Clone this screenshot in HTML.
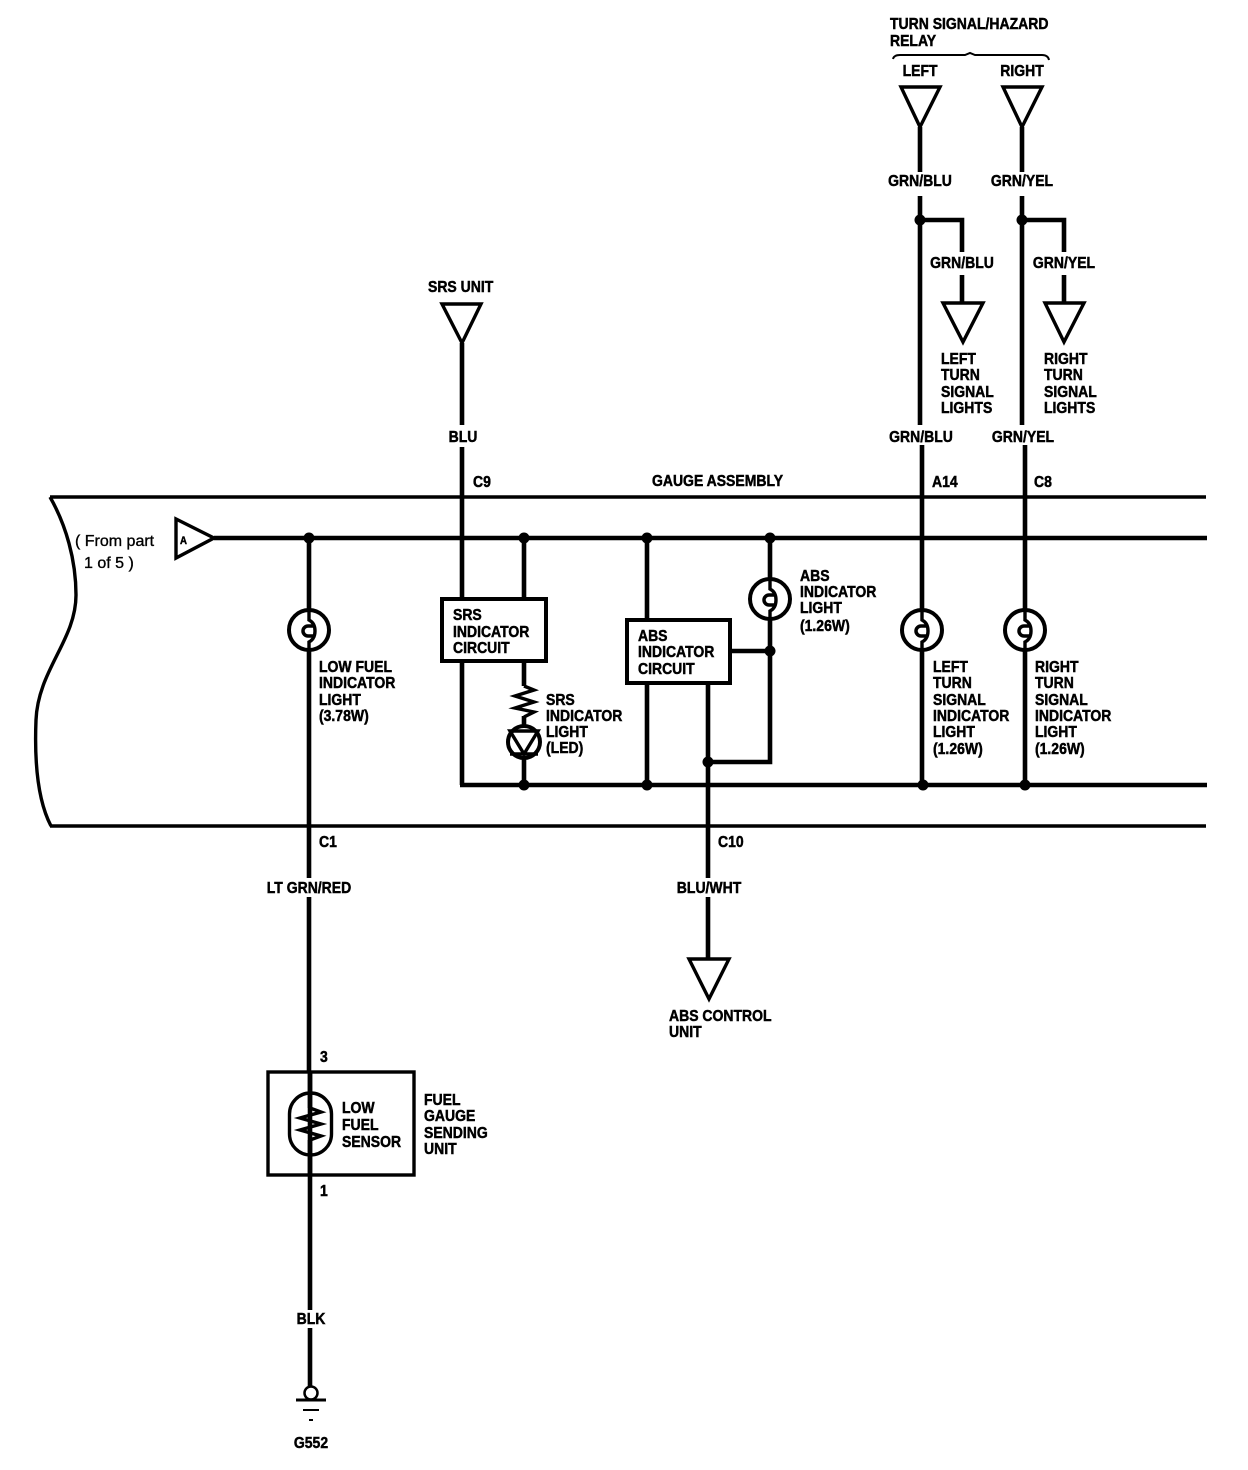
<!DOCTYPE html>
<html><head><meta charset="utf-8"><style>
html,body{margin:0;padding:0;background:#fff}
svg{display:block}
text{font-family:"Liberation Sans",sans-serif;font-weight:bold;font-size:16px;fill:#000;stroke:#000;stroke-width:.5px;transform-box:fill-box;transform-origin:0 50%;transform:scaleX(.875)}
text.m{text-anchor:middle;transform-origin:50% 50%}
text.r{font-weight:normal;font-size:16px;stroke-width:.35px;transform:none}
.w{fill:none;stroke:#000;stroke-width:4.6}
.t{fill:none;stroke:#000;stroke-width:3.4}
.o{fill:#fff;stroke:#000;stroke-width:4}
</style></head><body>
<svg width="1248" height="1470" viewBox="0 0 1248 1470" xmlns="http://www.w3.org/2000/svg">
<!-- housing -->
<path class="t" d="M50,497 H1206 M50,826 H1206"/>
<path class="t" d="M50,497 C66,525 76,560 76,595 C76,640 38,670 36,720 C34,770 40,805 51,826"/>
<!-- buses -->
<path class="w" d="M214,538 H1207 M460,785 H1207"/>
<!-- A connector -->
<path class="t" d="M176,519 V558 L214,538 Z" style="fill:#fff"/>
<text x="180" y="544" style="font-size:11px">A</text>
<text class="r" x="75" y="546">( From part</text>
<text class="r" x="84" y="568">1 of 5 )</text>
<!-- wires -->
<path class="w" d="M309,538 V878 M309,897 V1072 M310,1072 V1310 M310,1328 V1387"/>
<path class="w" d="M462,343 V425 M462,447 V785"/>
<path class="w" d="M524,538 V686 M524,716 V785"/>
<path class="w" d="M647,538 V785"/>
<path class="w" d="M770,538 V762 H708 M730,651 H770 M708,683 V878 M708,897 V959"/>
<path class="w" d="M920,127 V172 M920,196 V425 M922,445 V785"/>
<path class="w" d="M1022,127 V172 M1022,196 V425 M1025,445 V785"/>
<path class="w" d="M920,220 H962 V252 M962,275 V303"/>
<path class="w" d="M1022,220 H1064 V252 M1064,275 V303"/>
<!-- junctions -->
<g fill="#000">
<circle cx="309" cy="538" r="5.500"/><circle cx="524" cy="538" r="5.500"/><circle cx="647" cy="538" r="5.500"/><circle cx="770" cy="538" r="5.500"/>
<circle cx="524" cy="785" r="5.500"/><circle cx="647" cy="785" r="5.500"/><circle cx="923" cy="785" r="5.500"/><circle cx="1025" cy="785" r="5.500"/>
<circle cx="770" cy="651" r="5.500"/><circle cx="708" cy="762" r="5.500"/>
<circle cx="920" cy="220" r="5.500"/><circle cx="1022" cy="220" r="5.500"/>
</g>
<!-- triangles -->
<g>
<path style="fill:#fff" class="t" d="M901,87 H940 L920,127 Z"/>
<path style="fill:#fff" class="t" d="M1003,87 H1042 L1022,127 Z"/>
<path style="fill:#fff" class="t" d="M943,303 H983 L963,342 Z"/>
<path style="fill:#fff" class="t" d="M1045,303 H1084 L1064,342 Z"/>
<path style="fill:#fff" class="t" d="M442,304 H481 L462,343 Z"/>
<path style="fill:#fff" class="t" d="M689,959 H729 L709,999 Z"/>
</g>
<path d="M893,59 Q894,55 900,55 H965 L970,53 L975,55 H1042 Q1048,55 1049,60" fill="none" stroke="#000" stroke-width="2"/>
<!-- bulbs -->
<g>
<circle class="o" cx="309" cy="630" r="20"/>
<path class="t" d="M309,610 V620 Q315,623 315,631 Q315,639 309,642 V650"/>
<path fill="none" stroke="#000" stroke-width="3.500" d="M315,626 H308 a5,5 0 0 0 0,10 H315"/>
<circle class="o" cx="770" cy="599" r="20"/>
<path class="t" d="M770,579 V589 Q776,592 776,600 Q776,608 770,611 V619"/>
<path fill="none" stroke="#000" stroke-width="3.500" d="M776,595 H769 a5,5 0 0 0 0,10 H776"/>
<circle class="o" cx="922" cy="630" r="20"/>
<path class="t" d="M922,610 V620 Q928,623 928,631 Q928,639 922,642 V650"/>
<path fill="none" stroke="#000" stroke-width="3.500" d="M928,626 H921 a5,5 0 0 0 0,10 H928"/>
<circle class="o" cx="1025" cy="630" r="20"/>
<path class="t" d="M1025,610 V620 Q1031,623 1031,631 Q1031,639 1025,642 V650"/>
<path fill="none" stroke="#000" stroke-width="3.500" d="M1031,626 H1024 a5,5 0 0 0 0,10 H1031"/>
</g>
<!-- SRS box -->
<rect class="o" x="442" y="599" width="104" height="62"/>
<text x="453" y="620">SRS</text><text x="453" y="637">INDICATOR</text><text x="453" y="653">CIRCUIT</text>
<path class="t" d="M524,686 L534,690 L515,696 L534,702 L515,708 L534,712 L524,717"/>
<circle class="o" cx="524" cy="742" r="16"/>
<path class="t" d="M510,731 H538 L524,754 Z M510,754 H538"/>
<text x="546" y="705">SRS</text><text x="546" y="721">INDICATOR</text><text x="546" y="737">LIGHT</text><text x="546" y="753">(LED)</text>
<!-- ABS box -->
<rect class="o" x="627" y="620" width="103" height="63"/>
<text x="638" y="641">ABS</text><text x="638" y="657">INDICATOR</text><text x="638" y="674">CIRCUIT</text>
<text x="800" y="581">ABS</text><text x="800" y="597">INDICATOR</text><text x="800" y="613">LIGHT</text><text x="800" y="631">(1.26W)</text>
<!-- fuel unit -->
<rect class="t" x="268" y="1072" width="146" height="103"/>
<rect class="t" x="289.500" y="1093" width="42" height="62" rx="21" ry="21"/>
<path class="w" d="M310,1072 V1108 M310,1140 V1175"/>
<path class="t" d="M310,1108 L321,1112 L300,1118 L321,1124 L300,1130 L321,1136 L310,1140"/>
<text x="342" y="1113">LOW</text><text x="342" y="1130">FUEL</text><text x="342" y="1147">SENSOR</text>
<text x="424" y="1105">FUEL</text><text x="424" y="1121">GAUGE</text><text x="424" y="1138">SENDING</text><text x="424" y="1154">UNIT</text>
<text x="320" y="1062">3</text><text x="320" y="1196">1</text>
<!-- ground -->
<circle cx="311" cy="1393" r="6.500" fill="#fff" stroke="#000" stroke-width="2.500"/>
<path d="M296,1400 H326" stroke="#000" stroke-width="3"/>
<path d="M303,1410 H319" stroke="#000" stroke-width="2"/>
<path d="M309,1420 H313" stroke="#000" stroke-width="2"/>
<text class="m" x="311" y="1324">BLK</text>
<text class="m" x="311" y="1448">G552</text>
<!-- labels -->
<text x="890" y="29">TURN SIGNAL/HAZARD</text><text x="890" y="46">RELAY</text>
<text class="m" x="920" y="76">LEFT</text><text class="m" x="1022" y="76">RIGHT</text>
<text class="m" x="920" y="186">GRN/BLU</text><text class="m" x="1022" y="186">GRN/YEL</text>
<text class="m" x="962" y="268">GRN/BLU</text><text class="m" x="1064" y="268">GRN/YEL</text>
<text x="941" y="364">LEFT</text><text x="941" y="380">TURN</text><text x="941" y="397">SIGNAL</text><text x="941" y="413">LIGHTS</text>
<text x="1044" y="364">RIGHT</text><text x="1044" y="380">TURN</text><text x="1044" y="397">SIGNAL</text><text x="1044" y="413">LIGHTS</text>
<text class="m" x="921" y="442">GRN/BLU</text><text class="m" x="1023" y="442">GRN/YEL</text>
<text x="932" y="487">A14</text><text x="1034" y="487">C8</text>
<text x="652" y="486">GAUGE ASSEMBLY</text>
<text x="473" y="487">C9</text>
<text x="428" y="292">SRS UNIT</text>
<text class="m" x="463" y="442">BLU</text>
<text x="319" y="672">LOW FUEL</text><text x="319" y="688">INDICATOR</text><text x="319" y="705">LIGHT</text><text x="319" y="721">(3.78W)</text>
<text x="933" y="672">LEFT</text><text x="933" y="688">TURN</text><text x="933" y="705">SIGNAL</text><text x="933" y="721">INDICATOR</text><text x="933" y="737">LIGHT</text><text x="933" y="754">(1.26W)</text>
<text x="1035" y="672">RIGHT</text><text x="1035" y="688">TURN</text><text x="1035" y="705">SIGNAL</text><text x="1035" y="721">INDICATOR</text><text x="1035" y="737">LIGHT</text><text x="1035" y="754">(1.26W)</text>
<text x="319" y="847">C1</text><text x="718" y="847">C10</text>
<text class="m" x="309" y="893">LT GRN/RED</text>
<text class="m" x="709" y="893">BLU/WHT</text>
<text x="669" y="1021">ABS CONTROL</text><text x="669" y="1037">UNIT</text>
</svg>
</body></html>
